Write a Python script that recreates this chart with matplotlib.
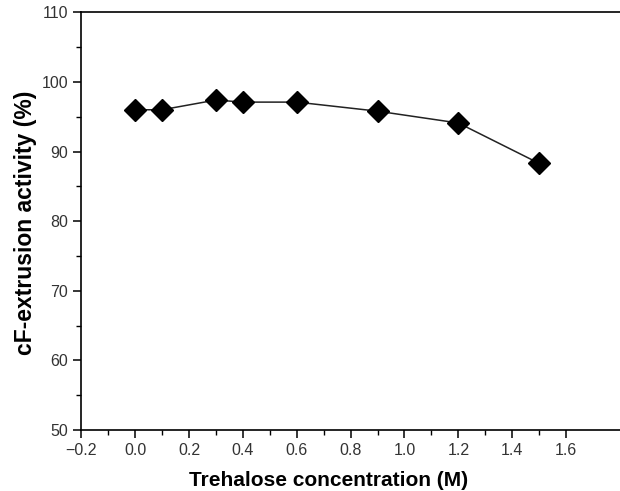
import numpy as np
import matplotlib
matplotlib.use('Agg')
import matplotlib.pyplot as plt
from matplotlib.ticker import MultipleLocator, FixedLocator

plt.rcParams['font.family'] = ['Liberation Sans', 'DejaVu Sans']

# trehalose concentration (M) vs cF-extrusion activity (%)
conc = [0.0, 0.1, 0.3, 0.4, 0.6, 0.9, 1.2, 1.5]
activity = [96.0, 96.0, 97.4, 97.1, 97.1, 95.8, 94.1, 88.3]

xticks = [-0.2, 0.0, 0.2, 0.4, 0.6, 0.8, 1.0, 1.2, 1.4, 1.6]
yticks = [50, 60, 70, 80, 90, 100, 110]

fig = plt.figure(figsize=(6.2, 4.91), dpi=100)
ax = fig.add_axes([0.131, 0.124, 0.869, 0.851])

ax.plot(conc, activity, color='#222222', lw=1.1, marker='D', ms=11.5,
        mfc='black', mec='black', zorder=3)

ax.set_xlim(-0.2, 1.8)
ax.set_ylim(50, 110)
ax.xaxis.set_major_locator(FixedLocator(xticks))
ax.xaxis.set_minor_locator(FixedLocator(np.arange(-0.1, 1.61, 0.2)))
ax.yaxis.set_major_locator(FixedLocator(yticks))
ax.yaxis.set_minor_locator(MultipleLocator(5))
ax.set_xticklabels(['\u22120.2'] + ['%.1f' % t for t in xticks[1:]])

ax.spines['right'].set_visible(False)
for s in ['left', 'bottom', 'top']:
    ax.spines[s].set_linewidth(1.2)

ax.tick_params(which='major', direction='out', length=6, width=1.1,
               labelsize=11.5, colors='black', labelcolor='#333333')
ax.tick_params(which='minor', direction='out', length=3.5, width=1.0)
ax.tick_params(axis='x', which='both', top=False)

ax.set_xlabel('Trehalose concentration (M)', fontsize=15, fontweight='bold')
ax.set_ylabel('cF-extrusion activity (%)', fontsize=16.5, fontweight='bold')
ax.xaxis.set_label_coords(0.46, -0.097)
ax.yaxis.set_label_coords(-0.082, 0.495)

fig.savefig('out.png', dpi=100)
